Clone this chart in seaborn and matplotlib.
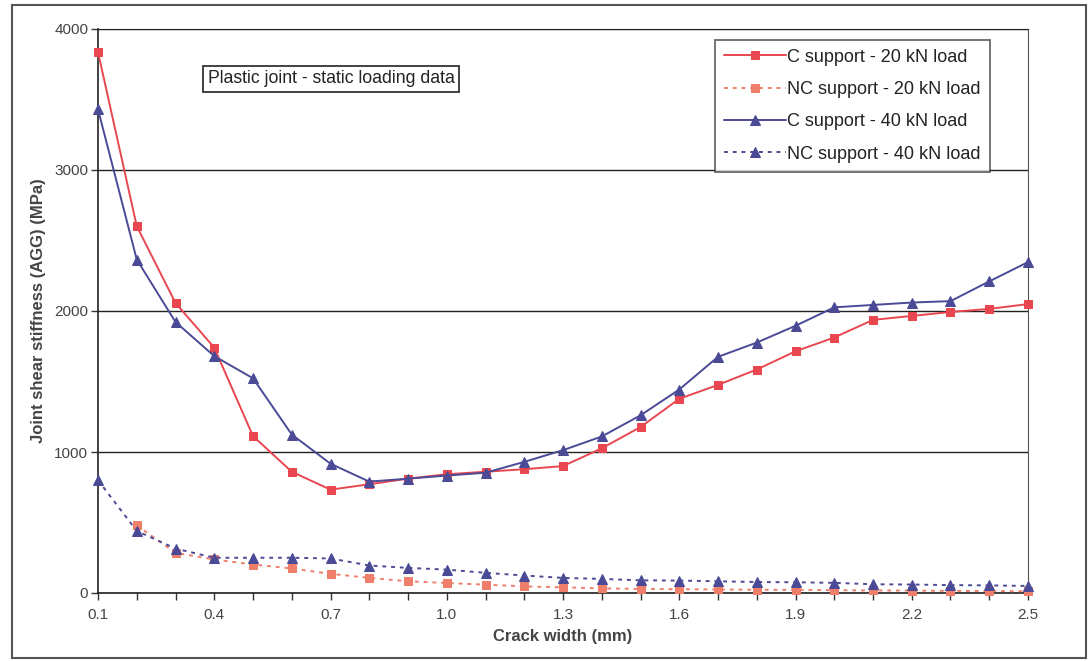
import numpy as np
import pandas as pd
import matplotlib
matplotlib.use("Agg")
import matplotlib.pyplot as plt
import seaborn as sns
from matplotlib.patches import Rectangle

crack_width = [0.1, 0.2, 0.3, 0.4, 0.5, 0.6, 0.7, 0.8, 0.9, 1.0, 1.1, 1.2, 1.3,
               1.4, 1.5, 1.6, 1.7, 1.8, 1.9, 2.0, 2.1, 2.2, 2.3, 2.4, 2.5]

c_20kn = [3836, 2602, 2057, 1740, 1113, 860, 733, 771, 811, 842, 860, 878, 900,
          1026, 1177, 1377, 1476, 1585, 1714, 1812, 1937, 1965, 1993, 2015, 2049]
nc_20kn = [np.nan, 480, 285, 238, 202, 174, 136, 107, 83, 71, 59, 47, 40,
           33, 29, 27, 25, 23, 22, 20, 18, 17, 15, 14, 12]
c_40kn = [3430, 2365, 1922, 1680, 1523, 1124, 917, 790, 811, 833, 853, 930, 1013,
          1110, 1260, 1443, 1675, 1776, 1895, 2026, 2043, 2060, 2070, 2210, 2347]
nc_40kn = [800, 440, 315, 250, 250, 250, 245, 195, 178, 166, 143, 124, 107,
           100, 90, 88, 83, 78, 76, 72, 62, 60, 56, 54, 50]

labels = ["C support - 20 kN load", "NC support - 20 kN load",
          "C support - 40 kN load", "NC support - 40 kN load"]

sns.set_style("white")
plt.rcParams['font.family'] = ['Liberation Sans', 'DejaVu Sans']

fig = plt.figure(figsize=(10.88, 6.61), dpi=100)
ax = fig.add_axes([98 / 1088, 1 - 593 / 661, 930 / 1088, 564 / 661])

red = '#e8474f'
orange = '#ef7f6a'
blue = '#4a4a96'

sns.lineplot(x=crack_width, y=c_20kn, ax=ax, color=red, marker='s', markersize=6,
             markeredgecolor=red, linewidth=1.4, label=labels[0], clip_on=False, zorder=4)
sns.lineplot(x=crack_width, y=nc_20kn, ax=ax, color=orange, marker='s', markersize=6,
             markeredgecolor=orange, linewidth=1.4, linestyle=(0, (2, 2.5)), label=labels[1],
             clip_on=False, zorder=3)
sns.lineplot(x=crack_width, y=c_40kn, ax=ax, color=blue, marker='^', markersize=7,
             markeredgecolor=blue, linewidth=1.4, label=labels[2], clip_on=False, zorder=4)
sns.lineplot(x=crack_width, y=nc_40kn, ax=ax, color=blue, marker='^', markersize=7,
             markeredgecolor=blue, linewidth=1.4, linestyle=(0, (2, 2.5)), label=labels[3],
             clip_on=False, zorder=3)

ax.set_xlim(0.1, 2.5)
ax.set_ylim(0, 4000)
ax.set_xticks(crack_width)
ax.set_xticklabels([f"{v:.1f}" if i % 3 == 0 else "" for i, v in enumerate(crack_width)])
ax.set_yticks([0, 1000, 2000, 3000, 4000])
ax.yaxis.grid(True, color='#222222', linewidth=1.0)
ax.set_axisbelow(True)
ax.tick_params(axis='both', direction='out', length=5, width=1, color='#333333',
               labelsize=11, labelcolor='#444444', left=True, bottom=True, pad=6)
ax.tick_params(axis='y', pad=2)

for side in ['left', 'bottom']:
    ax.spines[side].set_color('#222222')
    ax.spines[side].set_linewidth(1.2)
ax.spines['top'].set_color('#222222')
ax.spines['right'].set_color('#555555')

ax.set_xlabel("Crack width (mm)", fontsize=12, fontweight='bold', color='#444444', labelpad=5)
ax.set_ylabel("Joint shear stiffness (AGG) (MPa)", fontsize=12, fontweight='bold',
              color='#444444', labelpad=6)

ax.text(0.2505, 0.912, "Plastic joint - static loading data", transform=ax.transAxes,
        ha='center', va='center', fontsize=12.7, color='#222222',
        bbox=dict(boxstyle='square,pad=0.25', facecolor='white', edgecolor='#222222', linewidth=1.2))

leg = ax.legend(loc='upper right', bbox_to_anchor=(0.959, 0.981), borderaxespad=0,
                fontsize=13, frameon=True, fancybox=False, handlelength=3.4,
                handletextpad=0.1, labelspacing=0.85, borderpad=0.5)
leg.get_frame().set_edgecolor('#333333')
leg.get_frame().set_linewidth(1.2)
for t in leg.get_texts():
    t.set_color('#222222')

fig.patches.append(Rectangle((12 / 1088, 1 - 658 / 661), 1074 / 1088, 653 / 661,
                             transform=fig.transFigure, fill=False,
                             edgecolor='#555555', linewidth=1.5))

fig.savefig("out.png", dpi=100)
